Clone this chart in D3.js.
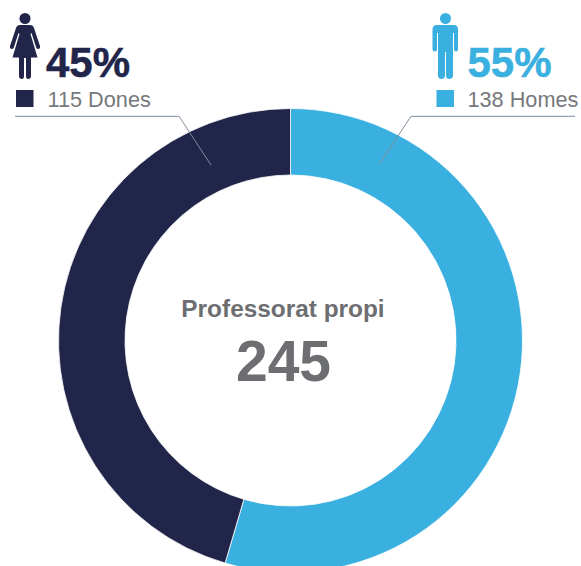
<!DOCTYPE html>
<html><head><meta charset="utf-8">
<script src="https://cdn.jsdelivr.net/npm/d3@7"></script>
<style>html,body{margin:0;padding:0;background:#fff}svg{display:block}text{font-family:"Liberation Sans",Arial,sans-serif}</style>
</head><body><div id="c"></div>
<script>
const categories = ["Homes", "Dones"];
const values = [138, 115];
const percents = ["55%", "45%"];
const legendLabels = ["138 Homes", "115 Dones"];
const colors = ["#3AB0E0", "#202549"];
const centerTitle = "Professorat propi";
const centerValue = "245";

const W = 581, H = 566, cx = 290.5, cy = 340.5;
const svg = d3.select("#c").append("svg").attr("width", W).attr("height", H);

const pie = d3.pie().sort(null)(values);
const arc = d3.arc().innerRadius(165.5).outerRadius(232);
const color = d3.scaleOrdinal(categories, colors);
svg.append("g").attr("transform", `translate(${cx},${cy})`)
  .selectAll("path").data(pie).join("path")
  .attr("d", arc).attr("fill", (d, i) => color(categories[i]))
  .attr("stroke", "#fff").attr("stroke-width", 0.8);

// leader lines
const line = d3.line();
[[[575, 116.3], [411, 116.3], [379, 164.5]], [[15, 116.3], [179, 116.3], [211, 165]]].forEach(p =>
  svg.append("path").attr("d", line(p)).attr("fill", "none").attr("stroke", "#7F8E9B").attr("stroke-width", 1));

// percents and legend
const legend = [
  {tx: 467.5, px: 467.5, sx: 436.5, i: 0},
  {tx: 47.5, px: 46, sx: 16, i: 1}
];
legend.forEach(l => {
  svg.append("text").attr("x", l.px).attr("y", 76.5).attr("font-size", 42).attr("font-weight", 700)
    .attr("fill", colors[l.i]).attr("stroke", colors[l.i]).attr("stroke-width", 0.5).text(percents[l.i]);
  svg.append("rect").attr("x", l.sx).attr("y", 90).attr("width", 17.5).attr("height", 17).attr("fill", colors[l.i]);
  svg.append("text").attr("x", l.tx).attr("y", 107).attr("font-size", 21.7)
    .attr("fill", "#77787B").text(legendLabels[l.i]);
});

// centre text
svg.append("text").attr("x", 283).attr("y", 317).attr("text-anchor", "middle")
  .attr("font-size", 24.4).attr("font-weight", 700).attr("fill", "#6D6E71").text(centerTitle);
svg.append("text").attr("x", 283.5).attr("y", 381).attr("text-anchor", "middle")
  .attr("font-size", 57).attr("font-weight", 700).attr("fill", "#6D6E71").text(centerValue);

// woman icon
const woman = svg.append("g").attr("fill", colors[1]);
woman.append("circle").attr("cx", 25).attr("cy", 18.5).attr("r", 5.5);
woman.append("path").attr("d", "M20,25 H30 Q33,25 34,28 L40,46 Q40.5,49 38,49 Q36.5,49 36,47 L31.5,33 L30.5,34 L37.5,57.5 H31 V76 Q31,79 28,79 Q26,79 26,76 V58 H24 V76 Q24,79 22,79 Q19,79 19,76 V57.5 H12.5 L19.5,34 L18.5,33 L14,47 Q13.5,49 12,49 Q9.5,49 10,46 L16,28 Q17,25 20,25 Z");
// man icon
const man = svg.append("g").attr("fill", colors[0]);
man.append("circle").attr("cx", 445.5).attr("cy", 18.5).attr("r", 5.5);
man.append("path").attr("d", "M437,25 H454 Q458,25 458,30 V49 Q458,51.5 456,51.5 Q454,51.5 454,49 V33 H453 V75 Q453,79 449,79 Q446,79 446,75 V52 H445 V75 Q445,79 441.5,79 Q438,79 438,75 V33 H437 V49 Q437,51.5 435,51.5 Q432.5,51.5 432.5,49 V30 Q432.5,25 437,25 Z");
</script></body></html>
